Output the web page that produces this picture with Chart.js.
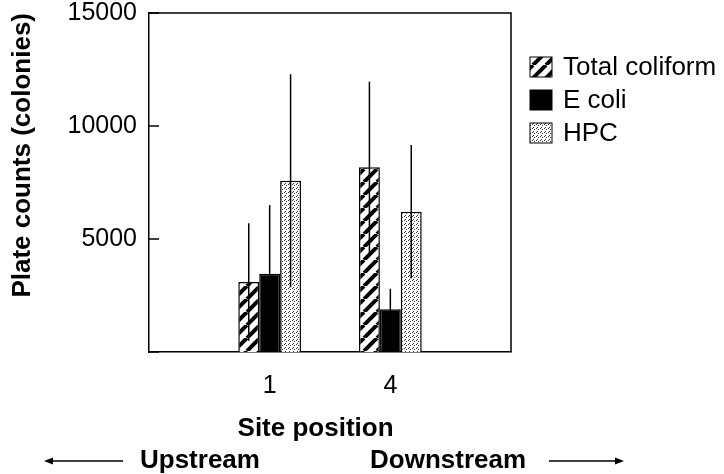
<!DOCTYPE html>
<html>
<head>
<meta charset="utf-8">
<script src="https://cdn.jsdelivr.net/npm/chart.js@4.4.1/dist/chart.umd.min.js"></script>
<style>
  html, body { margin: 0; padding: 0; background: #fff; }
  #wrap { width: 724px; height: 474px; }
</style>
</head>
<body>
<div id="wrap"><canvas id="plateChart" width="724" height="474"></canvas></div>
<script>
// data (means and error lengths)
const siteLabels = ['', '1', '4', ''];
const totalColiform = [null, 3100, 8170, null];
const totalColiformErr = [null, 2600, 3790, null];
const eColi = [null, 3460, 1890, null];
const eColiErr = [null, 3040, 910, null];
const hpc = [null, 7580, 6210, null];
const hpcErr = [null, 4710, 2950, null];
const yTicks = [0, 5000, 10000, 15000];

Chart.defaults.font.family = "'Liberation Sans', Arial, Helvetica, sans-serif";
Chart.defaults.color = '#000';

// --- fill patterns ---
function hatchPattern() {
    const n = 13;
    const c = document.createElement('canvas');
    c.width = n; c.height = n;
    const g = c.getContext('2d');
    g.fillStyle = '#fff';
    g.fillRect(0, 0, n, n);
    g.strokeStyle = '#000';
    g.lineWidth = 4;
    for (let k = -1; k <= 1; k++) {
        g.beginPath();
        g.moveTo(k * n, n);
        g.lineTo(k * n + n, 0);
        g.stroke();
    }
    return g.createPattern(c, 'repeat');
}

function dotPattern() {
    const c = document.createElement('canvas');
    c.width = 4; c.height = 4;
    const g = c.getContext('2d');
    g.fillStyle = '#fff';
    g.fillRect(0, 0, 4, 4);
    g.fillStyle = '#333';
    [[0, 0], [2, 1], [1, 3]].forEach(p => g.fillRect(p[0], p[1], 1, 1));
    return g.createPattern(c, 'repeat');
}

const errors = [totalColiformErr, eColiErr, hpcErr];

// error lines, inward y ticks, frame, legend and the upstream/downstream row
const extras = {
    id: 'extras',
    afterDatasetsDraw(chart) {
        const ctx = chart.ctx;
        const y = chart.scales.y;
        ctx.save();
        ctx.strokeStyle = '#000';
        ctx.lineWidth = 1.5;
        chart.data.datasets.forEach((ds, i) => {
            const meta = chart.getDatasetMeta(i);
            ds.data.forEach((v, j) => {
                if (v == null) return;
                const e = errors[i][j];
                const x = meta.data[j].x;
                ctx.beginPath();
                ctx.moveTo(x, y.getPixelForValue(v - e));
                ctx.lineTo(x, y.getPixelForValue(v + e));
                ctx.stroke();
            });
        });
        ctx.restore();
    },
    afterDraw(chart) {
        const ctx = chart.ctx;
        const a = chart.chartArea;
        const y = chart.scales.y;
        ctx.save();
        ctx.strokeStyle = '#000';
        ctx.lineWidth = 1.5;
        // top and right frame
        ctx.beginPath();
        ctx.moveTo(a.left, a.top);
        ctx.lineTo(a.right, a.top);
        ctx.lineTo(a.right, a.bottom);
        ctx.stroke();
        // inward ticks
        y.ticks.forEach(t => {
            const py = y.getPixelForValue(t.value);
            ctx.beginPath();
            ctx.moveTo(a.left, py);
            ctx.lineTo(a.left + 10, py);
            ctx.stroke();
        });

        // legend
        ctx.font = "26px 'Liberation Sans', Arial, sans-serif";
        ctx.textBaseline = 'middle';
        ctx.textAlign = 'left';
        chart.data.datasets.forEach((ds, i) => {
            const cy = 67 + i * 33;
            ctx.fillStyle = ds.backgroundColor;
            ctx.fillRect(530, cy - 10, 22, 20);
            ctx.lineWidth = 1;
            ctx.strokeRect(530, cy - 10, 22, 20);
            ctx.fillStyle = '#000';
            ctx.fillText(ds.label, 563, cy + 1);
        });

        // upstream / downstream row
        ctx.font = "bold 26px 'Liberation Sans', Arial, sans-serif";
        ctx.fillText('Upstream', 140, 461);
        ctx.fillText('Downstream', 370, 461);
        ctx.lineWidth = 1.5;
        ctx.beginPath();
        ctx.moveTo(123, 461); ctx.lineTo(50, 461);
        ctx.moveTo(549, 461); ctx.lineTo(618, 461);
        ctx.stroke();
        ctx.beginPath();
        ctx.moveTo(44, 461); ctx.lineTo(53, 457.5); ctx.lineTo(53, 464.5); ctx.closePath();
        ctx.moveTo(624, 461); ctx.lineTo(615, 457.5); ctx.lineTo(615, 464.5); ctx.closePath();
        ctx.fillStyle = '#000';
        ctx.fill();
        ctx.restore();
    }
};

const ctx = document.getElementById('plateChart').getContext('2d');
const plateChart = new Chart(ctx, {
    type: 'bar',
    data: {
        labels: siteLabels,
        datasets: [
            { label: 'Total coliform', data: totalColiform, backgroundColor: hatchPattern() },
            { label: 'E coli', data: eColi, backgroundColor: '#000' },
            { label: 'HPC', data: hpc, backgroundColor: dotPattern() }
        ]
    },
    options: {
        responsive: false,
        animation: false,
        events: [],
        layout: { padding: { left: 0, right: 213, top: 13, bottom: 0 } },
        datasets: {
            bar: {
                categoryPercentage: 0.52,
                barPercentage: 1.0,
                borderColor: '#000',
                borderWidth: 1.5
            }
        },
        plugins: {
            legend: { display: false },
            tooltip: { enabled: false }
        },
        scales: {
            x: {
                offset: false,
                grid: { display: false, drawTicks: false },
                border: { display: true, color: '#000', width: 1.5 },
                ticks: { font: { size: 25, lineHeight: 1 }, padding: 22, maxRotation: 0, autoSkip: false },
                title: {
                    display: true,
                    text: 'Site position    ',
                    font: { size: 26, weight: 'bold' },
                    padding: { top: 0, bottom: 30 }
                },
                afterFit: s => { s.height = 122; s.paddingLeft = 0; s.paddingRight = 0; }
            },
            y: {
                min: yTicks[0],
                max: yTicks[yTicks.length - 1],
                grid: { display: false, drawTicks: false },
                border: { display: true, color: '#000', width: 1.5 },
                afterBuildTicks: s => { s.ticks = yTicks.map(v => ({ value: v })); },
                ticks: {
                    font: { size: 25, lineHeight: 1 },
                    padding: 12,
                    callback: v => (v === 0 ? '' : v)
                },
                title: {
                    display: true,
                    text: 'Plate counts (colonies)',
                    align: 'end',
                    font: { size: 26, weight: 'bold' },
                    padding: { top: 7, bottom: 0 }
                },
                afterFit: s => { s.width = 149; s.paddingTop = 0; s.paddingBottom = 0; }
            }
        }
    },
    plugins: [extras]
});
</script>
</body>
</html>
